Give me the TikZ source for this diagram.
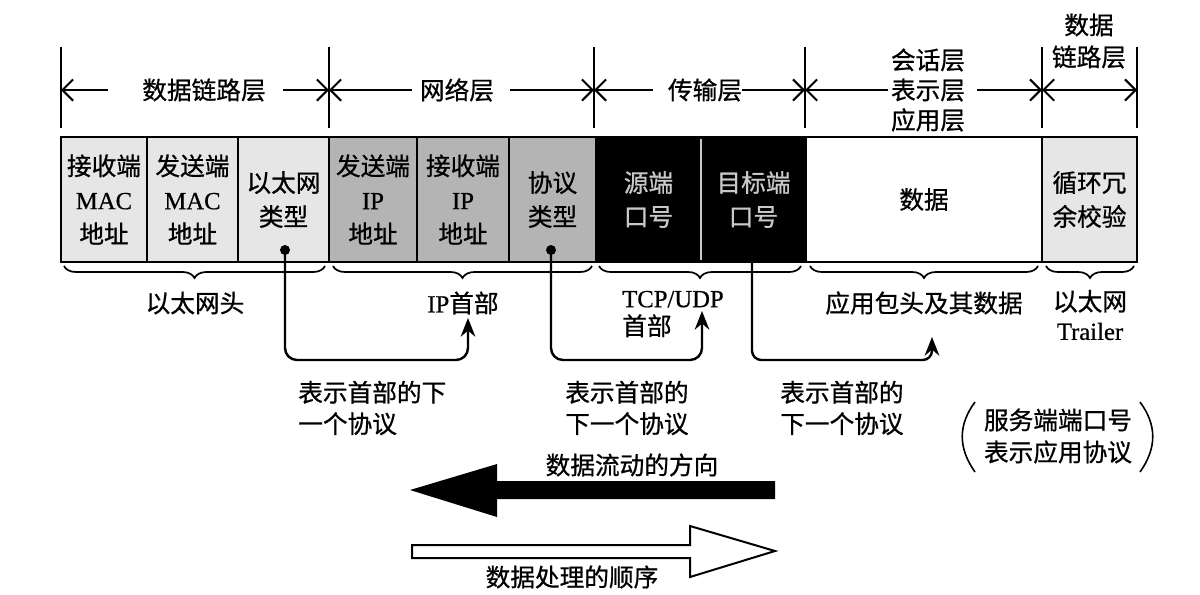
\documentclass[tikz,border=0pt]{standalone}
\usepackage{fontspec}
\setmainfont{Liberation Serif}[FakeBold=0.6]
\newfontfamily\zh[FakeBold=0.8]{Noto Sans CJK SC}
\usetikzlibrary{arrows.meta,decorations.pathreplacing}
\definecolor{lightfld}{HTML}{E6E6E6}
\definecolor{darkfld}{HTML}{B4B4B4}
\definecolor{greytxt}{HTML}{C8C8C8}
\tikzset{
  lay/.style={line width=1.5pt},
  layarrow/.style={line width=1.5pt,-{Straight Barb[length=8pt,width=16pt,line width=1.5pt]}},
  layboth/.style={line width=1.5pt,{Straight Barb[length=8pt,width=16pt,line width=1.5pt]}-{Straight Barb[length=8pt,width=16pt,line width=1.5pt]}},
  boxline/.style={line width=1.5pt,draw=black},
  boxtext/.style={align=center,font=\fontsize{18.5}{25.5}\selectfont\zh,inner sep=0pt},
  lbl/.style={font=\fontsize{18.5}{23.5}\selectfont\zh,inner sep=0pt},
  brc/.style={decorate,decoration={brace,mirror,amplitude=9pt},line width=1.3pt},
  conn/.style={line width=1.8pt,rounded corners=9pt,-{Stealth[length=14pt,width=11pt]}},
  dot/.style={circle,fill=black,inner sep=0pt,minimum size=7.5pt},
}
\newcommand\fld[6]{%
  \draw[boxline,fill=#4] (#2,137) rectangle (#3,262);
  \node[boxtext,text=#6] (#1) at ({(#2+#3)/2},199.5) {#5};}
\begin{document}
\begin{tikzpicture}[x=0.75pt,y=-0.75pt]
\useasboundingbox (0,0) rectangle (1200,594);
% ---- layer separators
\foreach \k/\x in {1/61,2/329,3/594,4/805,5/1042,6/1137}{
  \coordinate (vT\k) at (\x,47);
  \coordinate (vB\k) at (\x,128);
  \draw[lay] (vT\k) -- (vB\k);
}
% ---- layer labels
\node[lbl] (L1) at (204,90) {数据链路层};
\node[lbl] (L2) at (457,90) {网络层};
\node[lbl] (L3) at (705,90) {传输层};
\node[lbl,align=center,font=\fontsize{18.5}{22.5}\selectfont\zh] (L4) at (928,90) {会话层\\表示层\\应用层};
\node[lbl,align=center,font=\fontsize{18.5}{24}\selectfont\zh] (L5) at (1089,41) {数据\\链路层};
\coordinate (a1l) at (108,90); \coordinate (a1r) at (283,90);
\coordinate (a2l) at (412,90); \coordinate (a2r) at (510,90);
\coordinate (a3l) at (653,90); \coordinate (a3r) at (742,90);
\coordinate (a4l) at (888,90); \coordinate (a4r) at (977,90);
\draw[layarrow] (a1l) -- (vT1 |- a1l);
\draw[layarrow] (a1r) -- (vT2 |- a1r);
\draw[layarrow] (a2l) -- (vT2 |- a2l);
\draw[layarrow] (a2r) -- (vT3 |- a2r);
\draw[layarrow] (a3l) -- (vT3 |- a3l);
\draw[layarrow] (a3r) -- (vT4 |- a3r);
\draw[layarrow] (a4l) -- (vT4 |- a4l);
\draw[layarrow] (a4r) -- (vT5 |- a4r);
\draw[layboth] (vT5 |- a4r) -- (vT6 |- a4r);
% ---- fields
\fld{b1}{61}{147}{lightfld}{接收端\\\rmfamily MAC\\\zh 地址}{black}
\fld{b2}{147}{238}{lightfld}{发送端\\\rmfamily MAC\\\zh 地址}{black}
\fld{b3}{238}{329}{lightfld}{以太网\\类型}{black}
\fld{b4}{329}{417}{darkfld}{发送端\\\rmfamily IP\\\zh 地址}{black}
\fld{b5}{417}{509}{darkfld}{接收端\\\rmfamily IP\\\zh 地址}{black}
\fld{b6}{509}{596}{darkfld}{协议\\类型}{black}
\fld{b7}{596}{701}{black}{源端\\口号}{greytxt}
\fld{b8}{701}{806}{black}{目标端\\口号}{greytxt}
\fld{b9}{806}{1042}{white}{数据}{black}
\fld{b10}{1042}{1137}{lightfld}{循环冗\\余校验}{black}
\draw[line width=1pt,draw=greytxt] (701,139) -- (701,260);
\draw[line width=2pt] (61,137) rectangle (1137,262);
% ---- braces
\draw[brc] (64,266) -- (325,266);
\draw[brc] (333,266) -- (592,266);
\draw[brc] (599,266) -- (801,266);
\draw[brc] (810,266) -- (1038,266);
\draw[brc] (1046,266) -- (1134,266);
\node[lbl] (h1) at (195,303) {以太网头};
\node[lbl] (h2) at (463,303) {\rmfamily IP\zh 首部};
\node[lbl,align=left,anchor=west,font=\fontsize{18.5}{21}\selectfont] (h3) at (622,314) {TCP/UDP\\\zh 首部};
\node[lbl] (h4) at (924,303) {应用包头及其数据};
\node[lbl,align=center,font=\fontsize{18.5}{22}\selectfont\zh] (h5) at (1090,315) {以太网\\\rmfamily Trailer};
% ---- next-protocol connectors
\node[dot] (d1) at (285,250) {};
\node[dot] (d2) at (551,250) {};
\coordinate (d3) at (752,262);
\coordinate (t1) at (468,318);
\coordinate (t2) at (702,311);
\coordinate (t3) at (932,337);
\draw[conn] (d1.center) |- (468,360) -- (t1);
\draw[conn] (d2.center) |- (702,360) -- (t2);
\draw[conn,rounded corners=7pt] (d3) |- (932,360) -- (t3);
\node[lbl,align=left,anchor=west] (n1) at (298,408) {表示首部的下\\一个协议};
\node[lbl,align=left,anchor=west] (n2) at (565,408) {表示首部的\\下一个协议};
\node[lbl,align=left,anchor=west] (n3) at (780,408) {表示首部的\\下一个协议};
\node[lbl,align=center,font=\fontsize{18.5}{24}\selectfont\zh] (srv) at (1058,436) {服务端端口号\\表示应用协议};
\draw[line width=1.2pt] (975,402) .. controls (958,425) and (958,448) .. (975,472);
\draw[line width=1.2pt] (1140,402) .. controls (1157,425) and (1157,448) .. (1140,472);
% ---- big arrows
\fill (775,481) -- (497,481) -- (497,464) -- (410,490) -- (497,517) -- (497,499) -- (775,499) -- cycle;
\node[lbl] (flow) at (632,465) {数据流动的方向};
\draw[line width=1.5pt,fill=white] (412,545) -- (690,545) -- (690,526) -- (775,551) -- (690,577) -- (690,558) -- (412,558) -- cycle;
\node[lbl] (order) at (572,577) {数据处理的顺序};
\end{tikzpicture}
\end{document}
